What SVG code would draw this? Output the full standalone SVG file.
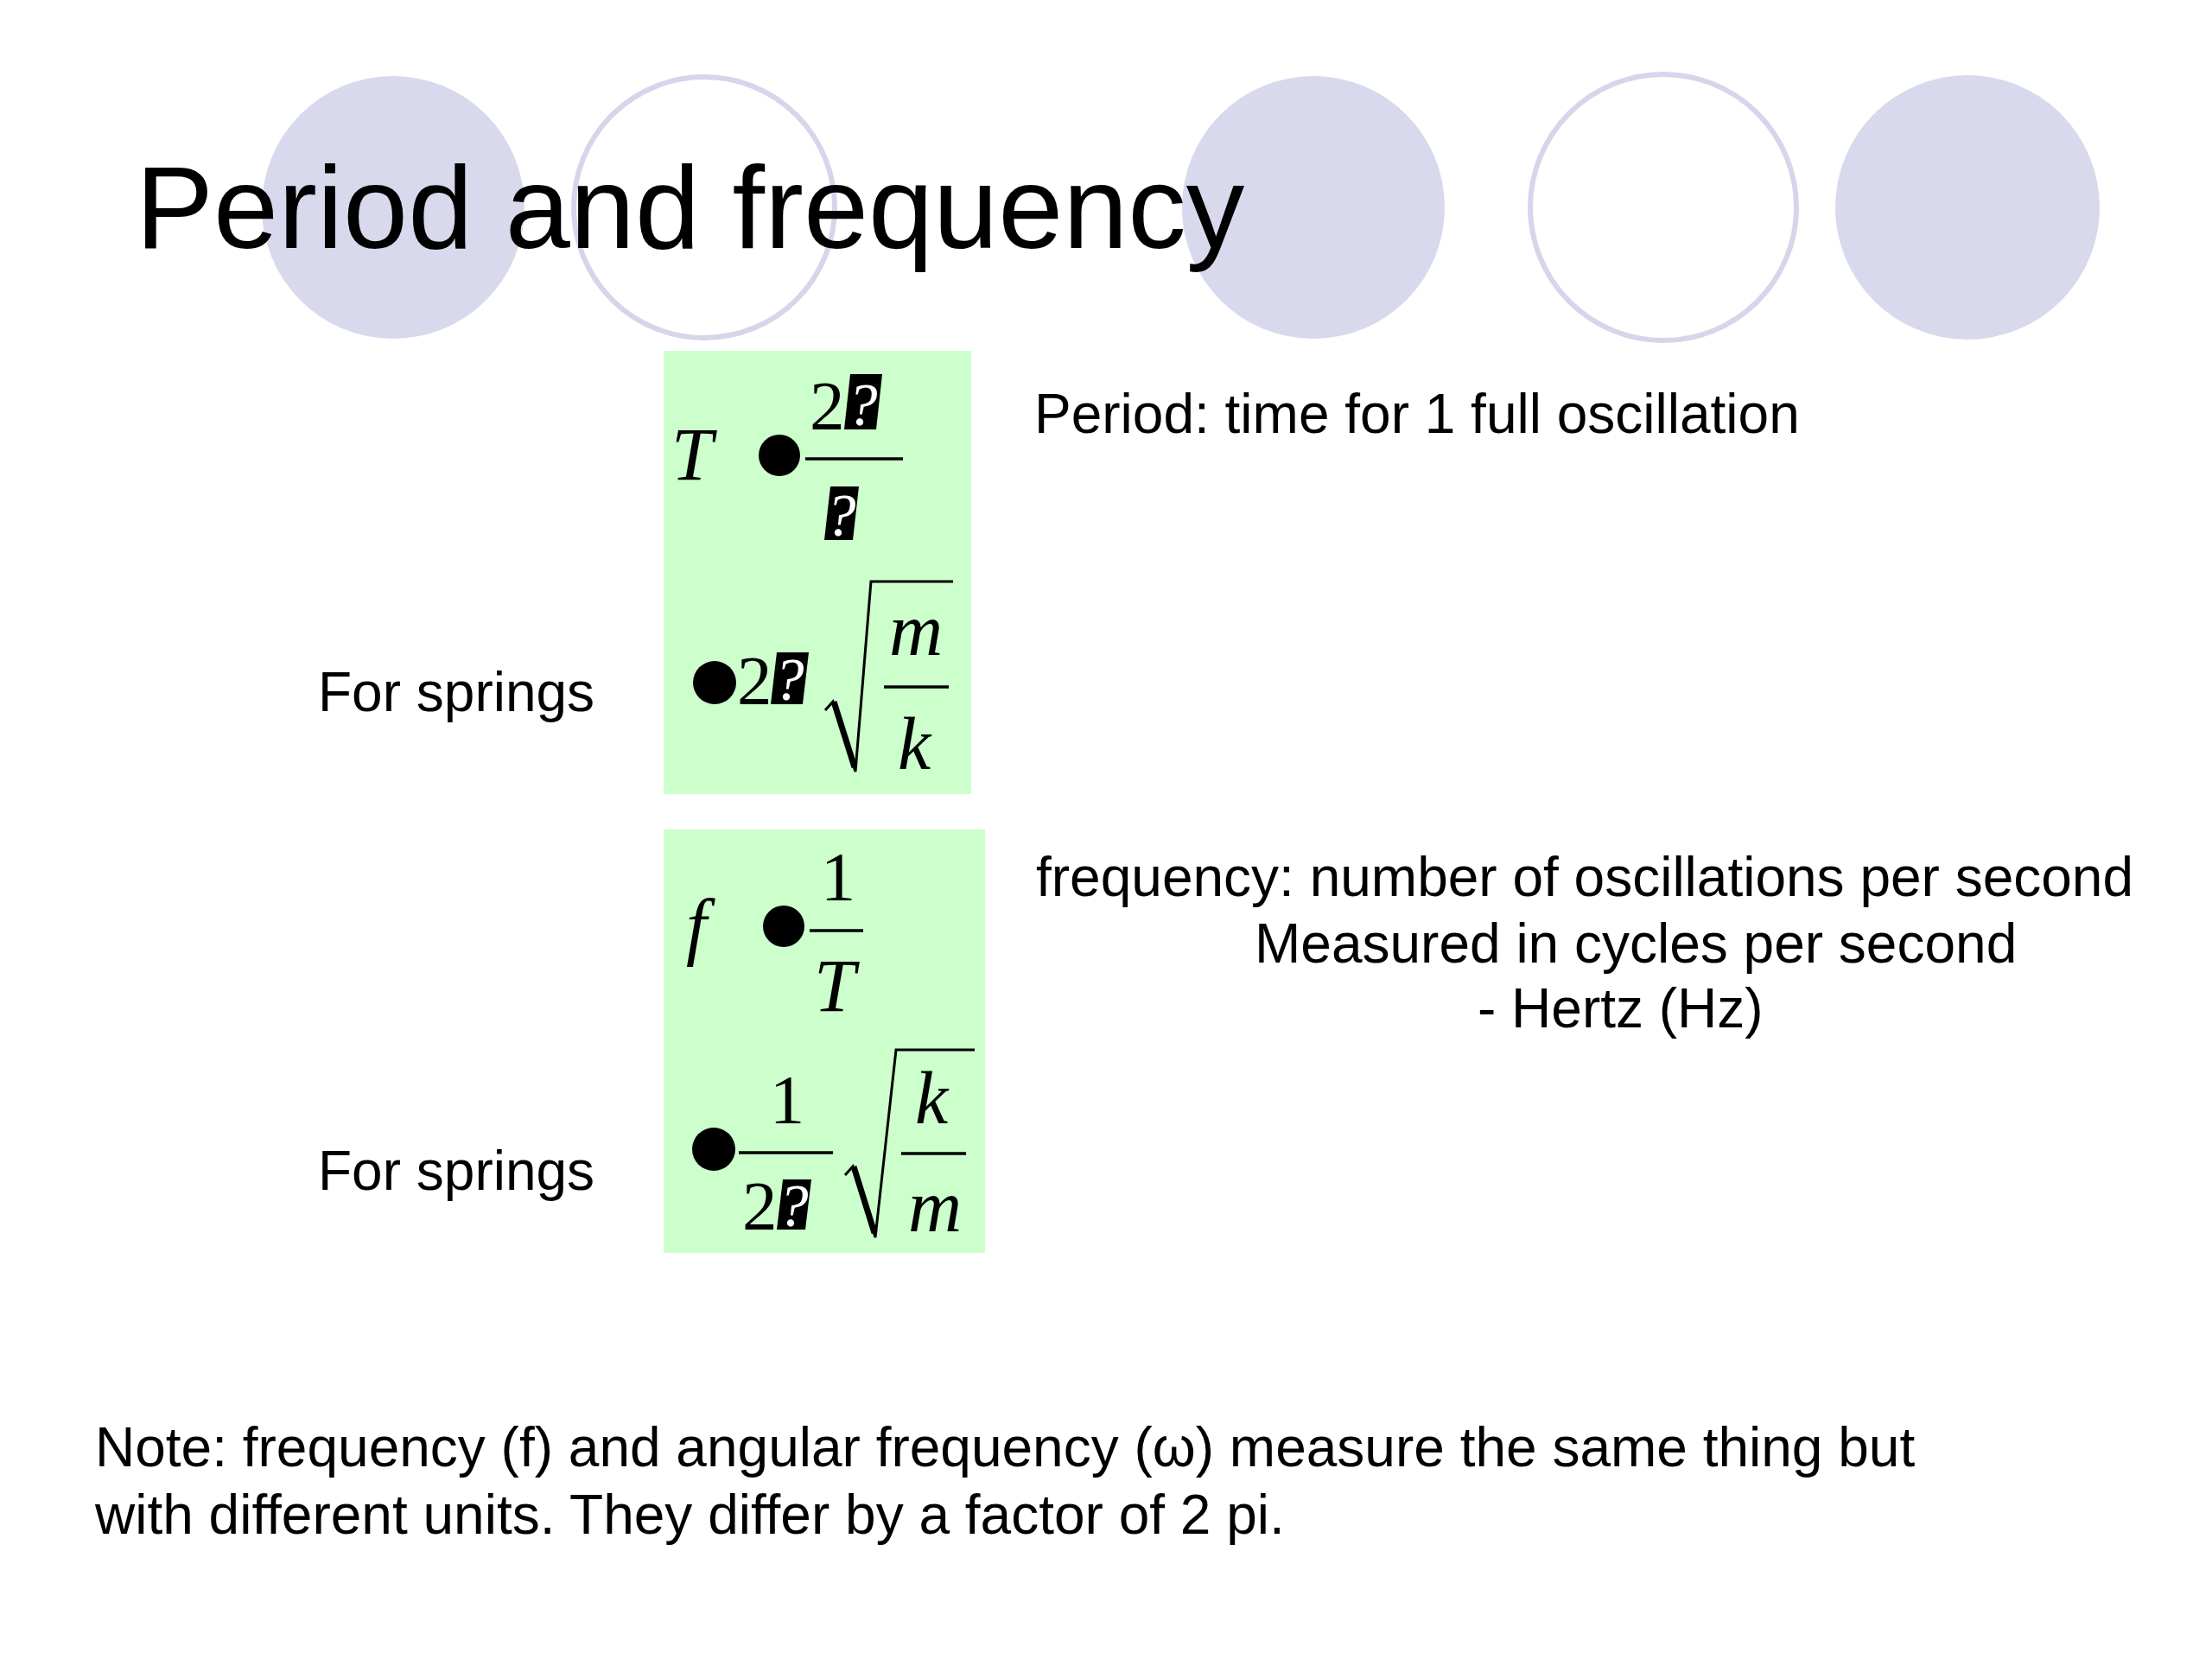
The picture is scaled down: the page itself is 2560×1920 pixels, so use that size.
<svg xmlns="http://www.w3.org/2000/svg" width="2560" height="1920" viewBox="0 0 2560 1920">
<style>
.sans{font-family:"Liberation Sans",Arial,sans-serif;fill:#000}
.txt{font-size:64px}
.title{font-size:135px}
.it{font-family:"Liberation Serif","Times New Roman",serif;font-style:italic;font-size:86px;fill:#000}
.rm{font-family:"Liberation Serif","Times New Roman",serif;font-size:81px;fill:#000}
.q{font-family:"Liberation Serif","Times New Roman",serif;font-style:italic;font-size:70px;fill:#fff;text-anchor:middle}
.deco{fill:#d9d9ed}
.ring{fill:#fff;stroke:#d6d6ea;stroke-width:6}
.box{fill:#ccffcc}
.bar{stroke:#000;stroke-width:3.5;fill:none}
.rad{stroke:#000;stroke-width:3;fill:none;stroke-linejoin:miter}
.radthick{stroke:#000;stroke-width:7;fill:none;stroke-linecap:butt}
</style>
<rect width="2560" height="1920" fill="#fff"/>
<g id="decoration">
<circle class="deco" cx="455" cy="240" r="152"/>
<circle class="ring" cx="815" cy="240" r="151"/>
<circle class="deco" cx="1520" cy="240" r="152"/>
<circle class="ring" cx="1925" cy="240" r="154"/>
<circle class="deco" cx="2277" cy="240" r="153"/>
</g>
<g id="title">
<text class="sans title" x="157" y="287">Period and frequency</text>
</g>
<g id="period-formula">
<rect class="box" x="768" y="406" width="356" height="513"/>
<text class="it" x="777" y="555">T</text>
<circle cx="902" cy="527" r="24"/>
<line class="bar" x1="932" y1="531" x2="1045" y2="531"/>
<text class="rm" x="937" y="497">2</text>
<polygon points="984,433 1021,433 1014,497 977,497"/>
<text class="q" x="998" y="492">?</text>
<polygon points="961,563 994,563 987,625 954,625"/>
<text class="q" x="973" y="620">?</text>
<circle cx="827" cy="790" r="25"/>
<text class="rm" x="853" y="815">2</text>
<polygon points="899,755 936,755 929,815 892,815"/>
<text class="q" x="913" y="810">?</text>
<polyline class="rad" points="955,822 964,812 990,893 1008,673 1103,673"/>
<line class="radthick" x1="965" y1="812" x2="989" y2="888"/>
<line class="bar" x1="1023" y1="795" x2="1098" y2="795"/>
<text class="it" x="1060" y="758" text-anchor="middle">m</text>
<text class="it" x="1058" y="890" text-anchor="middle">k</text>
</g>
<g id="frequency-formula">
<rect class="box" x="768" y="960" width="372" height="490"/>
<text class="it" x="806" y="1100" text-anchor="middle">f</text>
<circle cx="907" cy="1072" r="24"/>
<line class="bar" x1="937" y1="1077" x2="999" y2="1077"/>
<text class="rm" x="970" y="1042" text-anchor="middle">1</text>
<text class="it" x="966" y="1170" text-anchor="middle">T</text>
<circle cx="826" cy="1330" r="25"/>
<line class="bar" x1="855" y1="1334" x2="964" y2="1334"/>
<text class="rm" x="911" y="1300" text-anchor="middle">1</text>
<text class="rm" x="859" y="1423">2</text>
<polygon points="906,1365 939,1365 932,1423 899,1423"/>
<text class="q" x="918" y="1419">?</text>
<polyline class="rad" points="978,1360 987,1350 1013,1432 1037,1215 1128,1215"/>
<line class="radthick" x1="988" y1="1350" x2="1012" y2="1427"/>
<line class="bar" x1="1043" y1="1335" x2="1118" y2="1335"/>
<text class="it" x="1078" y="1300" text-anchor="middle">k</text>
<text class="it" x="1082" y="1425" text-anchor="middle">m</text>
</g>
<g id="labels">
<text class="sans txt" x="368" y="823">For springs</text>
<text class="sans txt" x="368" y="1377">For springs</text>
</g>
<g id="period-text">
<text class="sans txt" x="1197" y="501">Period: time for 1 full oscillation</text>
</g>
<g id="frequency-text">
<text class="sans txt" x="1199" y="1037">frequency: number of oscillations per second</text>
<text class="sans txt" x="1452" y="1114">Measured in cycles per second</text>
<text class="sans txt" x="1710" y="1189">- Hertz (Hz)</text>
</g>
<g id="note">
<text class="sans txt" x="110" y="1697">Note: frequency (f) and angular frequency (ω) measure the same thing but</text>
<text class="sans txt" x="110" y="1775">with different units. They differ by a factor of 2 pi.</text>
</g>
<g id="connectors"/>
</svg>
